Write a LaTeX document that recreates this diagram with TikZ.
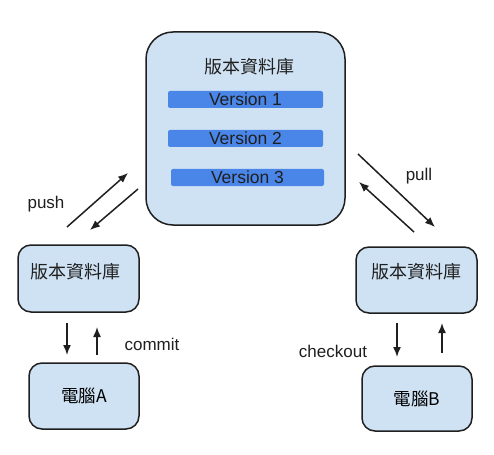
\documentclass[tikz,border=0pt]{standalone}
\usepackage{fontspec}
\setmainfont{Liberation Sans}
\newfontfamily\cjk{Noto Sans CJK TC}
\usetikzlibrary{arrows,arrows.meta,positioning}
\definecolor{repofill}{HTML}{CFE2F3}
\definecolor{barblue}{HTML}{4A86E8}
\definecolor{ink}{HTML}{1F1F1F}
\tikzstyle{repo}=[draw=ink,line width=1.5pt,fill=repofill,rounded corners=13pt]
\tikzstyle{server}=[repo,rounded corners=27pt,minimum width=199pt,minimum height=193pt]
\tikzstyle{local}=[repo,minimum width=121pt,minimum height=67pt]
\tikzstyle{pc}=[repo,minimum width=110pt,minimum height=66pt,font=\fontsize{17.5}{20}\selectfont\cjk]
\tikzstyle{ver}=[fill=barblue,rounded corners=2pt,minimum height=17pt,inner sep=0pt,
                font=\fontsize{17.5}{20}\selectfont,text=ink]
\tikzstyle{lbl}=[font=\fontsize{17}{20}\selectfont,text=ink]
\tikzstyle{tc}=[font=\fontsize{18}{20}\selectfont\cjk,text=ink]
\tikzstyle{flow}=[-{Latex[length=10pt,width=8pt]},line width=1.5pt,draw=ink]
\begin{document}
\begin{tikzpicture}[x=1pt,y=-1pt]
\useasboundingbox (0,0) rectangle (494,454);
% central repository
\node[server] (server) at (245.5,128.5) {};
\node[tc] (server title) at (249.5,67) {版本資料庫};
\node[ver,minimum width=155pt] (v1) at (245.5,99.5) {Version 1};
\node[ver,minimum width=155pt] (v2) at (245.5,138.5) {Version 2};
\node[ver,minimum width=153pt] (v3) at (247.5,177.5) {Version 3};
% local repositories and computers
\node[local] (repoA) at (78.5,278.5) {};
\node[tc] (repoA title) at (75,272) {版本資料庫};
\node[pc] (pcA) at (84,396) {電腦A};
\node[local,minimum height=66pt] (repoB) at (416.5,280) {};
\node[tc] (repoB title) at (416,272) {版本資料庫};
\node[pc,minimum height=65pt] (pcB) at (417,398.5) {電腦B};
% arrow ends
\coordinate (pushS) at (67,227);  \coordinate (pushE) at (128,173);
\coordinate (fetchS) at (138,189); \coordinate (fetchE) at (90,230);
\coordinate (pullS) at (358,154); \coordinate (pullE) at (435,227);
\coordinate (sendS) at (414,232); \coordinate (sendE) at (359,182);
\coordinate (aDownS) at (67,323); \coordinate (aDownE) at (67,355);
\coordinate (aUpS) at (97,355);   \coordinate (aUpE) at (97,327);
\coordinate (bDownS) at (397,323); \coordinate (bDownE) at (397,357);
\coordinate (bUpS) at (442,353);   \coordinate (bUpE) at (442,323);
\draw[flow] (pushS) -- (pushE);
\draw[flow] (fetchS) -- (fetchE);
\draw[flow] (pullS) -- (pullE);
\draw[flow] (sendS) -- (sendE);
\draw[flow] (aDownS) -- (aDownE);
\draw[flow] (aUpS) -- (aUpE);
\draw[flow] (bDownS) -- (bDownE);
\draw[flow] (bUpS) -- (bUpE);
% labels
\node[lbl] (push) at (46,204) {push};
\node[lbl] (pull) at (419,176) {pull};
\node[lbl] (commit) at (152,344) {commit};
\node[lbl] (checkout) at (333,351) {checkout};
\end{tikzpicture}
\end{document}
